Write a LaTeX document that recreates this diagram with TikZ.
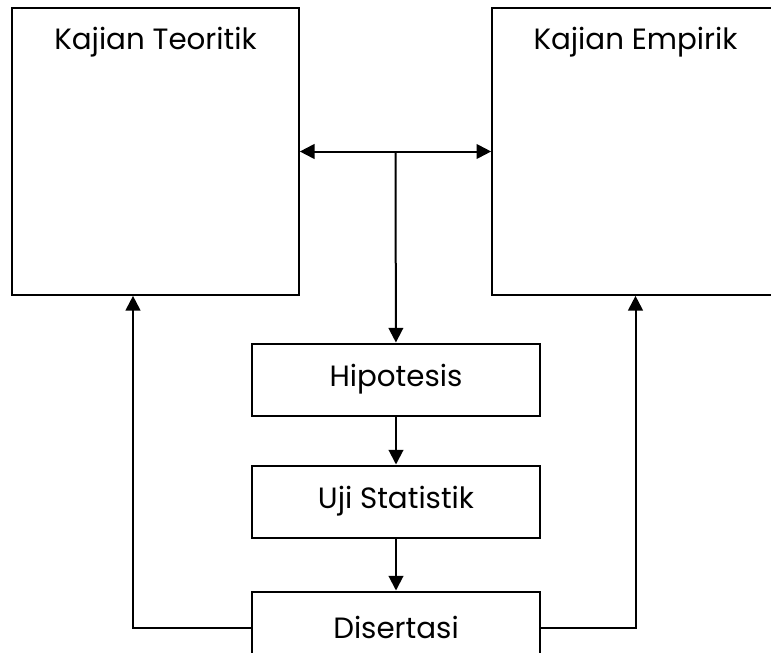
\documentclass[tikz,border=0pt]{standalone}
\usepackage{fontspec}
\setmainfont{Poppins}
\usetikzlibrary{arrows.meta,positioning}

\begin{document}
\begin{tikzpicture}[x=0.75pt,y=-0.75pt,
    bigbox/.style={rectangle,draw,line width=1.5pt,minimum width=215pt,minimum height=215pt},
    box/.style={rectangle,draw,line width=1.5pt,minimum width=216pt,minimum height=54pt,align=center,font=\fontsize{22}{26}\selectfont},
    title/.style={anchor=base,yshift=-31.5pt,font=\fontsize{22}{26}\selectfont},
    arrow/.style={-{Triangle[length=11pt,width=11pt]},line width=1.5pt}
]
    \path[use as bounding box,clip] (0,0) rectangle (771,653);

    % Two studies at the top
    \node[bigbox,label={[title]north:Kajian Teoritik}] (teoritik) at (155.5,151.5) {};
    \node[bigbox,label={[title]north:Kajian Empirik}] (empirik) at (635.5,151.5) {};
    \draw[arrow,{Triangle[length=11pt,width=11pt]}-{Triangle[length=11pt,width=11pt]}] (teoritik) -- (empirik) coordinate[midway] (mid);

    % Chain in the middle
    \node[box] (hipotesis) at (396,379.5) {Hipotesis};
    \draw[arrow] (mid) -- (hipotesis);

    \node[box] (uji) at (396,501.5) {Uji Statistik};
    \draw[arrow] (hipotesis) -- (uji);

    \node[box] (disertasi) at (396,627.5) {Disertasi};
    \draw[arrow] (uji) -- (disertasi);

    % Feedback to both studies
    \draw[arrow] (disertasi.west) -| (teoritik.south -| 133,0);
    \draw[arrow] (disertasi.east) -| (empirik);
\end{tikzpicture}
\end{document}
